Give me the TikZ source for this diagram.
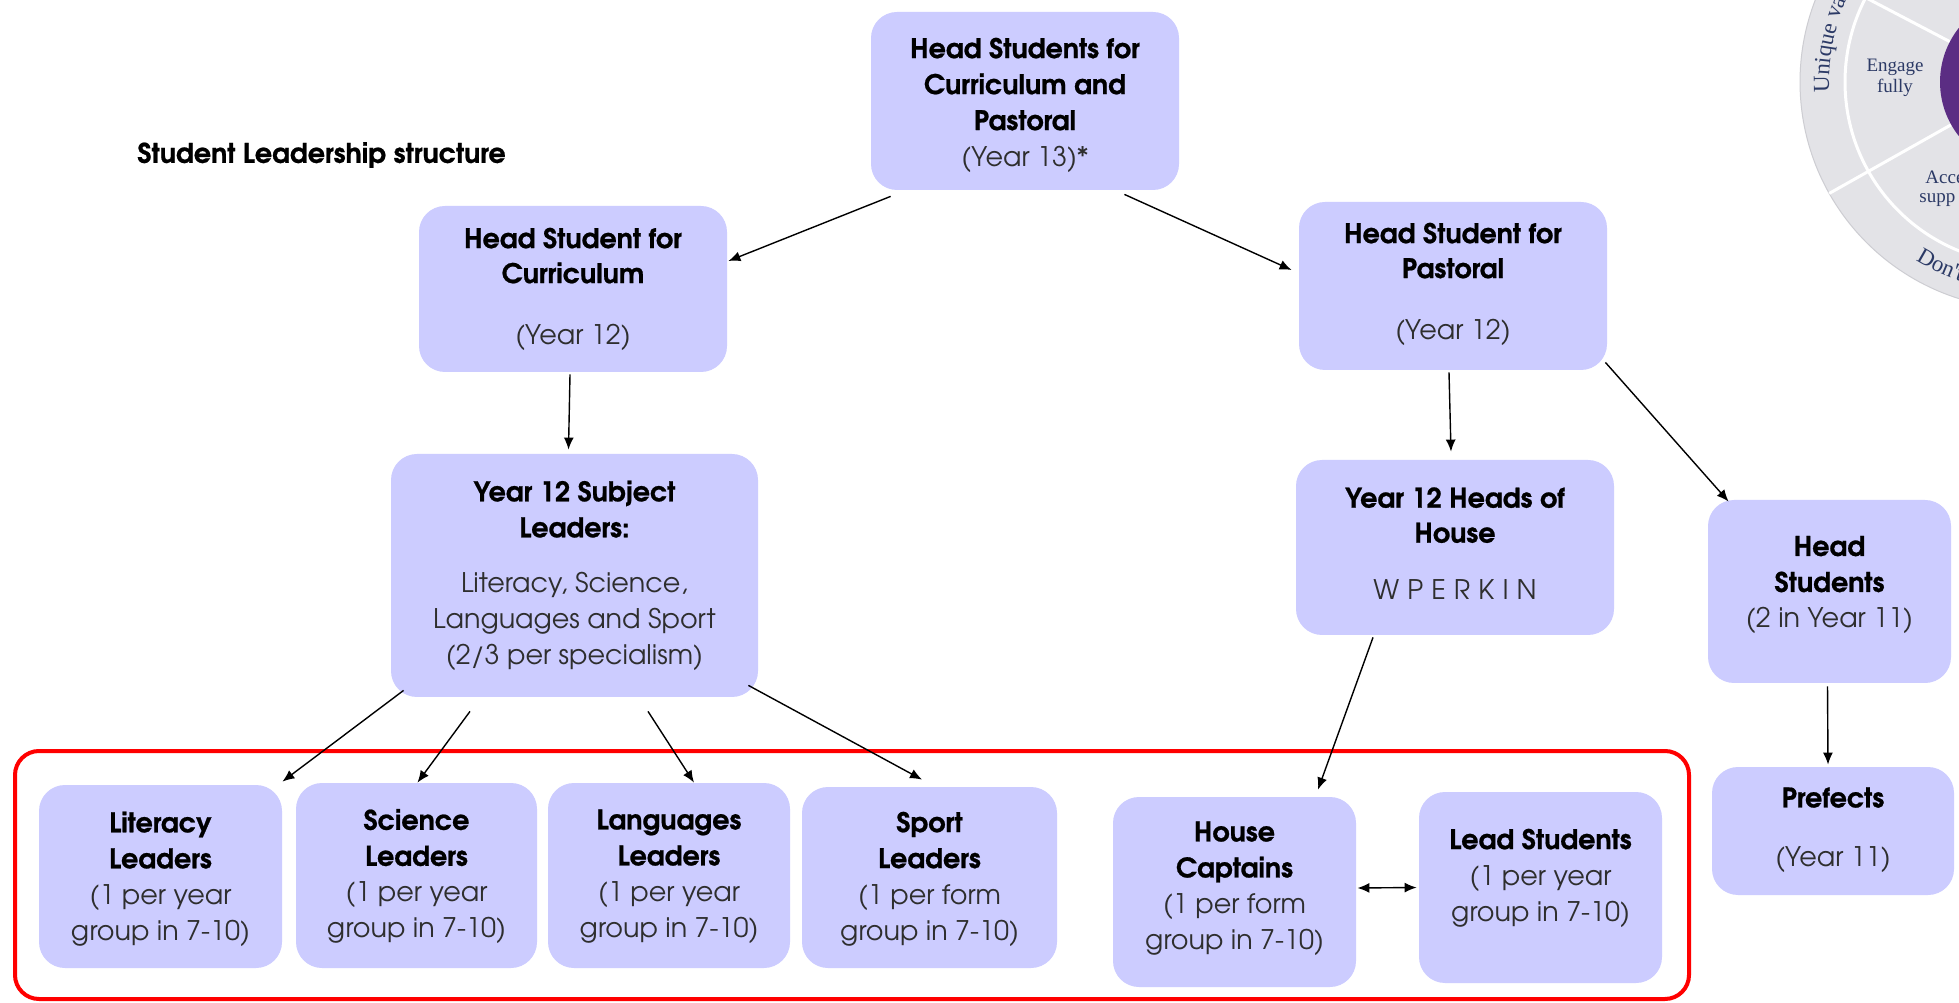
\documentclass[tikz,border=0pt]{standalone}
\usepackage{fontspec}
\setmainfont{TeX Gyre Adventor}[BoldFeatures={FakeBold=0.8}]
\newfontfamily\wheelfont{Liberation Serif}
\usetikzlibrary{arrows.meta,calc,decorations.text}

\definecolor{boxfill}{HTML}{CCCCFF}
\definecolor{regtext}{HTML}{2E2E2E}
\definecolor{ringgrey}{HTML}{E3E3E7}
\definecolor{ringedge}{HTML}{CDCDD2}
\definecolor{wheelpurple}{HTML}{5B2D83}
\definecolor{wheelnavy}{HTML}{2C3A66}
\definecolor{framered}{HTML}{FF0000}

\newcommand{\bl}[1]{{\bfseries\color{black}#1}}

\tikzset{
  box/.style={fill=boxfill, rounded corners=13pt, inner sep=0pt},
  txt/.style={align=center, inner sep=0pt, text=regtext, font=\fontsize{13.5}{18}\selectfont},
  txts/.style={align=center, inner sep=0pt, text=regtext, font=\fontsize{13.5}{17.5}\selectfont},
  conn/.style={-{Latex[length=6pt,width=5pt]}, line width=0.7pt, black},
  biconn/.style={{Latex[length=6pt,width=5pt]}-{Latex[length=6pt,width=5pt]}, line width=0.7pt, black},
  wtxt/.style={font=\wheelfont\fontsize{9.5}{10.5}\selectfont, text=wheelnavy, inner sep=0pt},
}

\begin{document}
\begin{tikzpicture}[x=0.5pt,y=0.5pt]
\useasboundingbox (0,0) rectangle (1959,1002);
\fill[white] (0,0) rectangle (1959,1002);

% ---------- wheel (top right, cut by the edge) ----------
\begin{scope}
  \clip (0,0) rectangle (1959,1002);
  \coordinate (wc) at (2027,920);
  \fill[ringgrey] (wc) circle[radius=227];
  \draw[ringedge, line width=0.5pt] (wc) circle[radius=227];
  \draw[white, line width=1.5pt] (wc) circle[radius=182];
  \draw[white, line width=1.5pt] ($(wc)+(209.4:87)$) -- ($(wc)+(209.4:227)$);
  \draw[white, line width=1.5pt] ($(wc)+(152.4:87)$) -- ($(wc)+(152.4:227)$);
  \fill[wheelpurple] (wc) circle[radius=87];
  \path[decorate, decoration={text along path, text={|\wheelfont\fontsize{11.5}{12.5}\selectfont|Unique val}, text color=wheelnavy, text align=left}]
    ($(wc)+(183:198)$) arc[start angle=183, end angle=140, radius=198];
  \path[decorate, decoration={text along path, text={|\wheelfont\fontsize{11.5}{12.5}\selectfont|Don't}, text color=wheelnavy, text align=left}]
    ($(wc)+(238:210)$) arc[start angle=238, end angle=285, radius=210];
  \node[wtxt, align=center] (engage) at (1895,924) {Engage\\fully};
  \node[wtxt, anchor=west] (acce) at (1925,825) {Acce};
  \node[wtxt, anchor=west] (supp) at (1919,802) {supp};
\end{scope}

% ---------- title ----------
\node[anchor=west, inner sep=0pt, font=\bfseries\fontsize{13.5}{16}\selectfont] (title) at (137,847) {Student Leadership structure};

% ---------- boxes ----------
\node[box, minimum width=154pt, minimum height=89pt] (top) at (1025,901) {};
\node[box, minimum width=154pt, minimum height=83pt] (hsc) at (573,713) {};
\node[box, minimum width=154pt, minimum height=84pt] (hsp) at (1453,716) {};
\node[box, minimum width=183.5pt, minimum height=121.5pt] (ysl) at (574.5,426.5) {};
\node[box, minimum width=159pt, minimum height=87.5pt] (yhh) at (1455,454.5) {};
\node[box, minimum width=121.5pt, minimum height=91.5pt] (hs11) at (1829.5,410.5) {};
\node[box, minimum width=121pt, minimum height=64pt] (pref) at (1833,171) {};
\node[box, minimum width=121.5pt, minimum height=91.5pt] (lit) at (160.5,125.5) {};
\node[box, minimum width=120.5pt, minimum height=92.5pt] (sci) at (416.5,126.5) {};
\node[box, minimum width=121pt, minimum height=92.5pt] (lang) at (669,126.5) {};
\node[box, minimum width=127.5pt, minimum height=90.5pt] (sport) at (929.5,124.5) {};
\node[box, minimum width=121.5pt, minimum height=95pt] (hc) at (1234.5,110) {};
\node[box, minimum width=121.5pt, minimum height=95.5pt] (ls) at (1540.5,114.5) {};

\node[draw=framered, line width=2pt, rounded corners=12pt, minimum width=837pt, minimum height=124pt, inner sep=0pt] (frame) at (852,127) {};

% ---------- texts ----------
\node[txt] (top-t) at ($(top.center)+(0,-4)$) {\bl{Head Students for}\\\bl{Curriculum and}\\\bl{Pastoral}\\(Year 13)*};
\node[txts] (hsc-t) at (hsc.center) {\bl{Head Student for}\\\bl{Curriculum}\\[13pt](Year 12)};
\node[txts] (hsp-t) at ($(hsp.center)+(0,2)$) {\bl{Head Student for}\\\bl{Pastoral}\\[13pt](Year 12)};
\node[txt] (ysl-t) at (ysl.center) {\bl{Year 12 Subject}\\\bl{Leaders:}\\[9.5pt]Literacy, Science,\\Languages and Sport\\(2/3 per specialism)};
\node[txts] (yhh-t) at ($(yhh.center)+(0,4)$) {\bl{Year 12 Heads of}\\\bl{House}\\[11pt]{\addfontfeature{LetterSpace=30}WPERKIN}};
\node[txt] (hs11-t) at ($(hs11.center)+(0,6.5)$) {\bl{Head}\\\bl{Students}\\(2 in Year 11)};
\node[txt] (pref-t) at ($(pref.center)+(0,1)$) {\bl{Prefects}\\[11.5pt](Year 11)};
\node[txt] (lit-t) at ($(lit.center)+(0,-2.5)$) {\bl{Literacy}\\\bl{Leaders}\\(1 per year\\group in 7-10)};
\node[txt] (sci-t) at ($(sci.center)+(0,-1)$) {\bl{Science}\\\bl{Leaders}\\(1 per year\\group in 7-10)};
\node[txt] (lang-t) at ($(lang.center)+(0,-1)$) {\bl{Languages}\\\bl{Leaders}\\(1 per year\\group in 7-10)};
\node[txt] (sport-t) at ($(sport.center)+(0,-1.5)$) {\bl{Sport}\\\bl{Leaders}\\(1 per form\\group in 7-10)};
\node[txt] (hc-t) at ($(hc.center)+(0,3.5)$) {\bl{House}\\\bl{Captains}\\(1 per form\\group in 7-10)};
\node[txt] (ls-t) at ($(ls.center)+(0,9.5)$) {\bl{Lead Students}\\(1 per year\\group in 7-10)};

% ---------- connectors ----------
\draw[conn] ($(top.south west)+(20,-6)$) -- ($(hsc.east)+(1,28)$);
\draw[conn] ($(top.south east)+(-55,-4)$) -- ($(hsp.west)+(-7,16)$);
\draw[conn] ($(hsc.south)+(-3,-2)$) -- ($(ysl.north)+(-6,4)$);
\draw[conn] ($(hsp.south)+(-4,-2)$) -- ($(yhh.north)+(-4,8)$);
\draw[conn] ($(hsp.south east)+(-2,8)$) -- ($(hs11.north west)+(21,-2)$);
\draw[conn] ($(hs11.south)+(-2,-3)$) -- ($(pref.north)+(-5,2)$);
\draw[conn] ($(ysl.south west)+(13,7)$) -- ($(lit.north east)+(0,3)$);
\draw[conn] ($(ysl.south)+(-104.5,-14)$) -- ($(sci.north)+(1,0)$);
\draw[conn] ($(ysl.south)+(73.5,-14)$) -- ($(lang.north)+(25,0)$);
\draw[conn] ($(ysl.south east)+(-10,12)$) -- ($(sport.north)+(-7.5,7)$);
\draw[conn] ($(yhh.south)+(-82,-2)$) -- ($(hc.north)+(83.5,7)$);
\draw[biconn] ($(hc.east)+(1,4)$) -- ($(ls.west)+(-2,0)$);
\end{tikzpicture}
\end{document}
